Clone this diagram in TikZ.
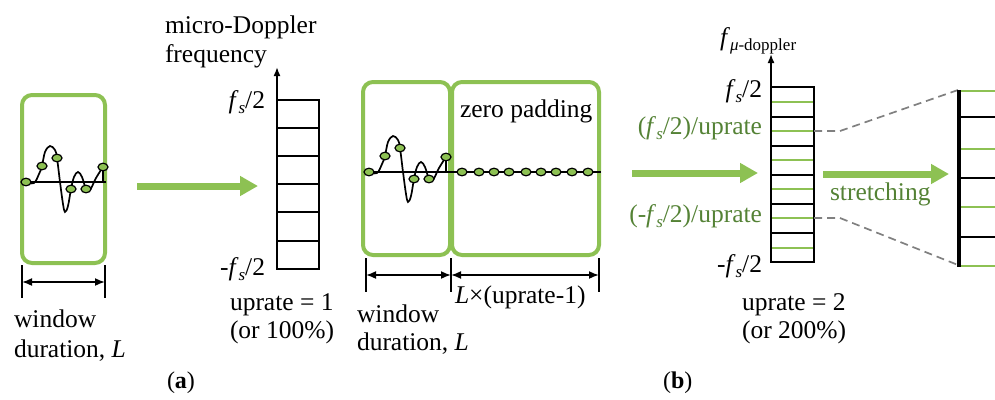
\documentclass[tikz,border=0pt]{standalone}
\usepackage{fontspec}
\setmainfont{Liberation Serif}
\usetikzlibrary{arrows.meta}
\definecolor{boxgreen}{RGB}{141,193,83}
\definecolor{txtgreen}{RGB}{84,130,53}
\definecolor{dashgray}{RGB}{128,128,128}
\newcommand\sbs[1]{\raisebox{-5pt}{\fontsize{17}{17}\selectfont #1}}
\newcommand\fsH{\textit{f}\sbs{\textit{s}}/2}
\tikzset{
  every node/.style={font=\fontsize{25.5}{29}\selectfont, inner sep=0pt, outer sep=0pt},
  gbox/.style={draw=boxgreen, line width=4pt, rounded corners=10pt},
  dot/.style={fill=boxgreen, draw=black, line width=1.2pt},
  sig/.style={line width=1.7pt, black},
  bigarrow/.style={draw=boxgreen, line width=7pt, -{Triangle[length=18pt,width=19pt]}},
  dimarrow/.style={line width=1.7pt, {Latex[length=10pt,width=8pt]}-{Latex[length=10pt,width=8pt]}},
  tickline/.style={line width=1.8pt},
  axisarrow/.style={line width=1.7pt, -{Latex[length=9pt,width=7pt]}},
  binline/.style={line width=2pt},
  gbin/.style={line width=2pt, draw=boxgreen},
  gtext/.style={text=txtgreen},
  dashline/.style={draw=dashgray, line width=1.7pt, dash pattern=on 8pt off 5pt},
  signal/.pic={
    \draw[sig] (0,0) -- (80,0);
    \draw[sig] plot[smooth, tension=0.6] coordinates {(0,0) (8,1) (13,-8) (16,-16) (19,-30) (24,-36) (29,-32) (31,-24) (34,0) (37,22) (39,30) (42,24) (45,7) (48,-5) (52,-10) (56,-5) (60,7) (64,8) (70,-4) (77,-15)};
    \draw[sig] (77,-15) -- (77,0);
    \foreach \p in {(0,0),(16,-16),(31,-24),(45,7),(60,7),(77,-15)}
      \path[dot] \p ellipse [x radius=5, y radius=3.8];
  }
}
\begin{document}
\begin{tikzpicture}[x=1pt,y=-1pt]
\useasboundingbox (0,0) rectangle (995,399);

% ---------- panel (a), left window ----------
\node[gbox, minimum width=83pt, minimum height=168pt] (w1) at (63.5,179) {};
\pic at (26,182) {signal};
\coordinate (t1a) at (22,265); \coordinate (t1b) at (22,298);
\coordinate (t1c) at (105,265); \coordinate (t1d) at (105,298);
\draw[tickline] (t1a) -- (t1b);
\draw[tickline] (t1c) -- (t1d);
\coordinate (d1a) at (22,282); \coordinate (d1b) at (105,282);
\draw[dimarrow] (d1a) -- (d1b);
\node[anchor=base west] (win1) at (14,327) {window};
\node[anchor=base west] (dur1) at (14,357) {duration, \textit{L}};

% arrow 1
\coordinate (a1s) at (137,186); \coordinate (a1e) at (258,186);
\draw[bigarrow] (a1s) -- (a1e);

% ---------- frequency bins, uprate 1 ----------
\node[anchor=base west] (mdl1) at (165,33) {micro-Doppler};
\node[anchor=base west] (mdl2) at (165,62) {frequency};
\coordinate (f1tl) at (277,100); \coordinate (f1br) at (319,269);
\draw[binline] (f1tl) rectangle (f1br);
\foreach \y in {128,156,184,212,241}
  \draw[binline] (277,\y) -- (319,\y);
\coordinate (ax1) at (277,67);
\draw[axisarrow] (f1tl) -- (ax1);
\node[anchor=base east] (fs1) at (265,108) {\fsH};
\node[anchor=base east] (mfs1) at (265,275) {-\fsH};
\node[anchor=base west] (up1) at (230,310) {uprate = 1};
\node[anchor=base west] (pc1) at (230,338) {(or 100\%)};

% ---------- zero padding ----------
\node[gbox, minimum width=87pt, minimum height=173pt] (w2) at (406.5,168.5) {};
\node[gbox, minimum width=147pt, minimum height=173pt] (zp) at (525.5,168.5) {};
\draw[sig] (449,172) -- (601,172);
\pic at (369,172) {signal};
\foreach \x in {462,479,494,509,526,541,556,572,588}
  \path[dot] (\x,172) ellipse [x radius=5, y radius=3.8];
\node[anchor=base west] (zpt) at (460,117) {zero padding};
\foreach \x/\n in {366/a,451/b,599/c}{
  \coordinate (t2\n1) at (\x,258); \coordinate (t2\n2) at (\x,292);
  \draw[tickline] (t2\n1) -- (t2\n2);
}
\coordinate (d2a) at (366,275); \coordinate (d2b) at (451,275); \coordinate (d2c) at (599,275);
\draw[dimarrow] (d2a) -- (d2b);
\draw[dimarrow] (d2b) -- (d2c);
\node[anchor=base west] (lup) at (455,303) {\textit{L}×(uprate-1)};
\node[anchor=base west] (win2) at (357,322) {window};
\node[anchor=base west] (dur2) at (357,350) {duration, \textit{L}};

% arrow 2
\coordinate (a2s) at (632,173); \coordinate (a2e) at (758,173);
\draw[bigarrow] (a2s) -- (a2e);

% ---------- frequency bins, uprate 2 ----------
\coordinate (f2tl) at (771,87); \coordinate (f2br) at (814,262);
\foreach \y in {102,131,160,189,218,248}
  \draw[gbin] (771,\y) -- (814,\y);
\foreach \y in {117,146,175,204,233}
  \draw[binline] (771,\y) -- (814,\y);
\draw[binline] (f2tl) rectangle (f2br);
\coordinate (ax2) at (771,54);
\draw[axisarrow] (f2tl) -- (ax2);
\node[anchor=base west] (fmu) at (720,45) {\textit{f}\sbs{\textit{μ}-doppler}};
\node[anchor=base east] (fs2) at (762,97) {\fsH};
\node[anchor=base east, gtext] (fsu) at (762,134) {(\fsH)/uprate};
\node[anchor=base east, gtext] (mfsu) at (762,222) {(-\fsH)/uprate};
\node[anchor=base east] (mfs2) at (762,272) {-\fsH};
\node[anchor=base west] (up2) at (742,310) {uprate = 2};
\node[anchor=base west] (pc2) at (742,338) {(or 200\%)};

% stretching
\coordinate (a3s) at (823,174); \coordinate (a3e) at (949,174);
\draw[bigarrow] (a3s) -- (a3e);
\node[anchor=base west, gtext] (str) at (830,200) {stretching};

% dashed guides
\coordinate (g1a) at (814,131); \coordinate (g1b) at (840,131); \coordinate (g1c) at (958,90);
\coordinate (g2a) at (814,218); \coordinate (g2b) at (840,218); \coordinate (g2c) at (958,265);
\draw[dashline] (g1a) -- (g1b) -- (g1c);
\draw[dashline] (g2a) -- (g2b) -- (g2c);

% stretched bins (partial)
\foreach \y in {91,149,207,266}
  \draw[gbin, line width=2.2pt] (959,\y) -- (995,\y);
\foreach \y in {117,178,237}
  \draw[binline, line width=2.2pt] (959,\y) -- (995,\y);
\coordinate (sbt) at (959,90); \coordinate (sbb) at (959,267);
\draw[line width=3.2pt] (sbt) -- (sbb);

% captions
\node[anchor=base west, font=\fontsize{24}{28}\selectfont] (capa) at (167,388) {(\textbf{a})};
\node[anchor=base west, font=\fontsize{24}{28}\selectfont] (capb) at (663,388) {(\textbf{b})};
\end{tikzpicture}
\end{document}
